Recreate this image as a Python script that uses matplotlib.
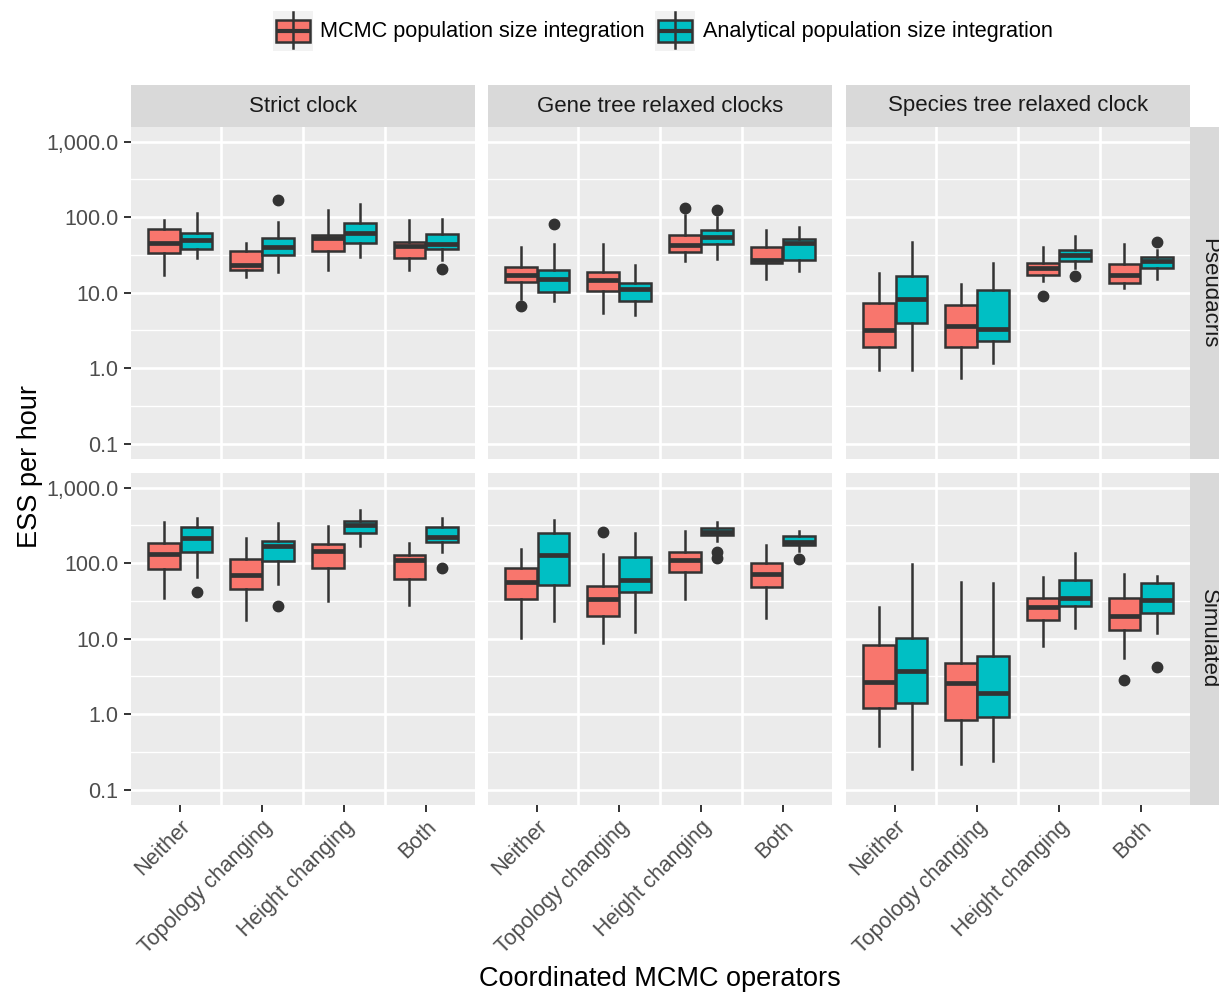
import matplotlib
matplotlib.use("Agg")
import matplotlib.pyplot as plt
from matplotlib.ticker import FixedLocator, NullFormatter
from matplotlib.patches import Rectangle
from matplotlib.lines import Line2D

plt.rcParams['font.family'] = ['Liberation Sans', 'DejaVu Sans']

W, H = 1219, 993

operators = ['Neither', 'Topology changing', 'Height changing', 'Both']
clocks = ['Strict clock', 'Gene tree relaxed clocks', 'Species tree relaxed clock']
datasets = ['Pseudacris', 'Simulated']
methods = ['MCMC population size integration', 'Analytical population size integration']
fills = ['#F8766D', '#00BFC4']

# (lower whisker, q1, median, q3, upper whisker) for each operator
pseud_strict_mcmc = [(17, 33, 46, 69, 91), (16, 20, 23, 36, 46), (20, 36, 53, 58, 124), (20, 29, 41.5, 47, 92)]
pseud_strict_anal = [(28.6, 38, 49, 61, 114), (19, 31, 40, 53, 87), (30, 45, 61, 83, 147), (27, 38, 44, 59, 95)]
pseud_gene_mcmc = [(8.1, 13.7, 17, 22, 40), (5.3, 10.6, 14.8, 19, 44), (26, 34, 43, 58, 106), (15.3, 24.5, 27, 40, 67)]
pseud_gene_anal = [(7.7, 10.2, 15, 19.7, 44), (5.1, 7.7, 11.2, 13.5, 23), (28, 44, 55, 67, 101), (19.5, 27, 45, 52, 75)]
pseud_species_mcmc = [(0.95, 1.9, 3.2, 7.3, 18), (0.75, 1.93, 3.6, 6.8, 13), (14.4, 16.9, 21, 25, 40), (11.5, 13.4, 17, 24, 44)]
pseud_species_anal = [(0.95, 3.9, 8.1, 16.4, 47), (1.16, 2.3, 3.3, 10.9, 24.5), (21, 26, 31, 37, 56), (15, 21, 26, 29.5, 37)]

sim_strict_mcmc = [(35, 84, 131, 183, 347), (17.6, 46, 70, 113, 217), (31, 87, 145, 180, 310), (27.5, 61, 110, 127, 187)]
sim_strict_anal = [(66, 139, 213, 298, 399), (53, 105, 168, 195, 336), (170, 253, 320, 360, 500), (139, 189, 220, 298, 391)]
sim_gene_mcmc = [(10.2, 33, 56, 86, 153), (8.75, 20, 33, 50, 131), (33, 77, 110, 142, 269), (18.7, 48, 72, 100, 174)]
sim_gene_anal = [(17, 52, 128, 248, 372), (12.4, 41, 59, 120, 248), (196, 236, 261, 294, 354), (145, 174, 192, 228, 266)]
sim_species_mcmc = [(0.38, 1.2, 2.7, 8.1, 26), (0.216, 0.84, 2.6, 4.8, 57), (7.9, 17.4, 26, 35, 66), (5.5, 13.1, 20, 35, 72)]
sim_species_anal = [(0.19, 1.4, 3.7, 10.2, 97), (0.24, 0.92, 1.9, 5.9, 54), (13.8, 27, 34, 60, 134), (12, 21.8, 32, 54, 68)]

# outliers: (operator index, method index, value)
pseud_strict_out = [(1, 1, 167), (3, 1, 20.7)]
pseud_gene_out = [(0, 0, 6.6), (0, 1, 81), (2, 0, 130), (2, 1, 125)]
pseud_species_out = [(2, 0, 9.1), (2, 1, 16.4), (3, 1, 47)]
sim_strict_out = [(0, 1, 42), (1, 1, 27), (3, 1, 86)]
sim_gene_out = [(1, 0, 256), (2, 1, 139), (2, 1, 116), (3, 1, 113)]
sim_species_out = [(3, 0, 2.8), (3, 1, 4.2)]

panels = [
    [(pseud_strict_mcmc, pseud_strict_anal, pseud_strict_out),
     (pseud_gene_mcmc, pseud_gene_anal, pseud_gene_out),
     (pseud_species_mcmc, pseud_species_anal, pseud_species_out)],
    [(sim_strict_mcmc, sim_strict_anal, sim_strict_out),
     (sim_gene_mcmc, sim_gene_anal, sim_gene_out),
     (sim_species_mcmc, sim_species_anal, sim_species_out)],
]

yticks = [0.1, 1, 10, 100, 1000]
yticklabels = ['0.1', '1.0', '10.0', '100.0', '1,000.0']

dark = '#333333'
fig = plt.figure(figsize=(W / 100, H / 100), dpi=100)


def px(x, y, w, h):
    return [x / W, 1 - (y + h) / H, w / W, h / H]


def strip(rect, label, rot=0, tx=0.5):
    sa = fig.add_axes(px(*rect))
    sa.set_facecolor('#D9D9D9')
    sa.set_xticks([])
    sa.set_yticks([])
    for s in sa.spines.values():
        s.set_visible(False)
    sa.text(tx, 0.5, label, rotation=rot, ha='center', va='center',
            fontsize=16, color='#1A1A1A', transform=sa.transAxes)


col_x = [131, 488, 846]
row_y = [127, 473]
pw, ph = 344, 332

for r in range(2):
    for c in range(3):
        ax = fig.add_axes(px(col_x[c], row_y[r], pw, ph))
        ax.set_facecolor('#EBEBEB')
        for s in ax.spines.values():
            s.set_visible(False)
        ax.set_yscale('log')
        ax.set_ylim(0.0625, 1560)
        ax.set_xlim(0.4, 4.6)
        ax.set_axisbelow(True)

        ax.yaxis.set_major_locator(FixedLocator(yticks))
        ax.yaxis.set_minor_locator(FixedLocator([10 ** (k + 0.5) for k in range(-2, 4)]))
        ax.yaxis.set_minor_formatter(NullFormatter())
        ax.grid(True, which='major', axis='y', color='white', lw=1.9)
        ax.grid(True, which='minor', axis='y', color='white', lw=0.95)
        for xv in (1.5, 2.5, 3.5):
            ax.axvline(xv, color='white', lw=1.9, zorder=0.5)
        ax.tick_params(axis='y', which='minor', length=0)

        mcmc, anal, outs = panels[r][c]
        for m, summ in enumerate((mcmc, anal)):
            stats = []
            for i, (lo, q1, med, q3, hi) in enumerate(summ):
                fl = [v for (oi, mi, v) in outs if oi == i and mi == m]
                stats.append(dict(whislo=lo, q1=q1, med=med, q3=q3, whishi=hi, fliers=fl))
            pos = [i + 1 + (m - 0.5) * 0.4 for i in range(len(summ))]
            ax.bxp(stats, positions=pos, widths=0.39, patch_artist=True, showcaps=False,
                   boxprops=dict(facecolor=fills[m], edgecolor=dark, linewidth=1.8),
                   medianprops=dict(color=dark, linewidth=3.4, solid_capstyle='butt'),
                   whiskerprops=dict(color=dark, linewidth=1.8),
                   flierprops=dict(marker='o', markerfacecolor=dark, markeredgecolor=dark,
                                   markersize=7.5),
                   manage_ticks=False)

        ax.set_xticks(range(1, 5))
        if r == 1:
            ax.set_xticklabels(operators, rotation=45, ha='right', va='top',
                               rotation_mode='anchor', fontsize=15.5, color='#4D4D4D')
            ax.tick_params(axis='x', length=5, width=1.4, color=dark, pad=3)
        else:
            ax.set_xticklabels([])
            ax.tick_params(axis='x', length=0)
        if c == 0:
            ax.set_yticklabels(yticklabels, fontsize=15.5, color='#4D4D4D')
            ax.tick_params(axis='y', which='major', length=5, width=1.4, color=dark, pad=4)
        else:
            ax.set_yticklabels([])
            ax.tick_params(axis='y', which='major', length=0)

    strip((1190, row_y[r], 42, ph), datasets[r], rot=270, tx=0.45)

for c in range(3):
    strip((col_x[c], 85, pw, 42), clocks[c])

# legend keys and labels
key_x = [273, 655]
text_x = [320, 703]
for m in range(2):
    ka = fig.add_axes(px(key_x[m], 11, 40, 40))
    ka.set_facecolor('#F2F2F2')
    ka.set_xlim(0, 1)
    ka.set_ylim(0, 1)
    ka.set_xticks([])
    ka.set_yticks([])
    for s in ka.spines.values():
        s.set_visible(False)
    ka.add_line(Line2D([0.5, 0.5], [0.07, 0.97], color=dark, lw=1.8))
    ka.add_patch(Rectangle((0.08, 0.23), 0.84, 0.54, facecolor=fills[m], edgecolor=dark, lw=1.8))
    ka.add_line(Line2D([0.08, 0.92], [0.5, 0.5], color=dark, lw=3.0, solid_capstyle='butt'))
    fig.text(text_x[m] / W, 1 - 32 / H, methods[m], ha='left', va='center',
             fontsize=15.6, color='black')

fig.text(30 / W, 1 - 466 / H, 'ESS per hour', rotation=90, ha='center', va='center',
         fontsize=19.5, color='black')
fig.text(660 / W, 1 - 979 / H, 'Coordinated MCMC operators', ha='center', va='center',
         fontsize=19.5, color='black')

fig.savefig('out.png', dpi=100, facecolor='white')
